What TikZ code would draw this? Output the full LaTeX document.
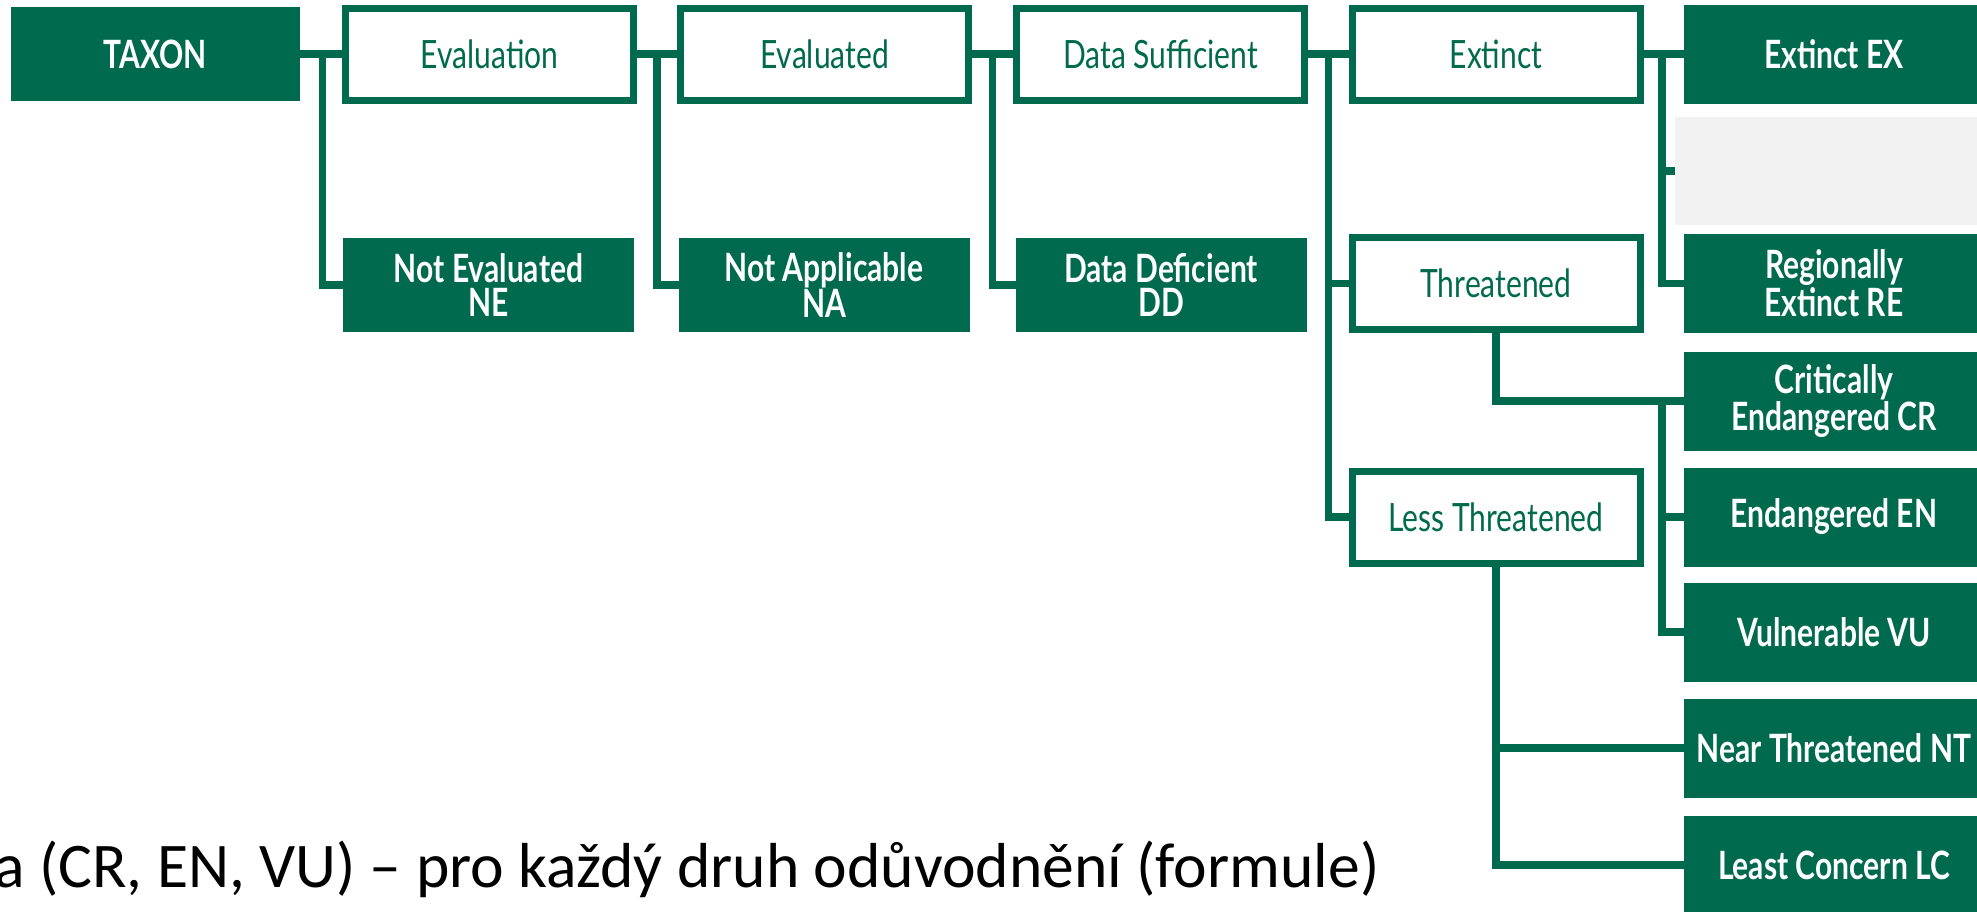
\documentclass[tikz,border=0pt]{standalone}
\usepackage{fontspec}
\setmainfont{Carlito}
\newfontfamily\boxfont[FakeStretch=0.77]{Lato}
\usetikzlibrary{calc}
\definecolor{iucn}{HTML}{006A4E}
\definecolor{graybg}{HTML}{F2F2F2}
\begin{document}
\begin{tikzpicture}[x=0.5pt,y=-0.5pt,
  conn/.style={draw=iucn,line width=3.75pt},
  obox/.style={draw=iucn,line width=3.5pt,fill=white,text=iucn,minimum width=144pt,minimum height=46pt,inner sep=0pt,outer sep=0pt,font=\boxfont\fontsize{19.5}{17}\selectfont,align=center},
  fbox/.style={fill=iucn,text=white,minimum width=145.5pt,minimum height=47pt,inner sep=0pt,outer sep=0pt,font=\boxfont\bfseries\fontsize{19.5}{17}\selectfont,align=center},
  rbox/.style={fbox,minimum width=150pt,minimum height=49.5pt}]
\clip (0,0) rectangle (1977,911);
\fill[white] (0,0) rectangle (1977,911);
% top row
\node[fbox,minimum width=144.5pt] (taxon) at (155,54) {TAXON};
\node[obox] (evaln) at (489.5,54) {Evaluation};
\node[obox] (evald) at (824.5,54) {Evaluated};
\node[obox] (ds) at (1160.5,54) {Data Sufficient};
\node[obox] (ext) at (1496,54) {Extinct};
\node[rbox] (ex) at (1834,54) {Extinct EX};
% second row
\node[fbox] (ne) at (488.5,285) {Not Evaluated\\NE};
\node[fbox] (na) at (824,285) {Not Applicable\\NA};
\node[fbox] (dd) at (1161,285) {Data Deficient\\DD};
\node[obox] (thr) at (1496,283.5) {Threatened};
\node[fill=graybg,minimum width=155pt,minimum height=54pt,inner sep=0pt,outer sep=0pt] (gray) at (1830,171) {};
\node[rbox] (re) at (1834,283.5) {Regionally\\Extinct RE};
% lower part
\node[rbox] (cr) at (1834,401) {Critically\\Endangered CR};
\node[obox] (lt) at (1496,517) {Less Threatened};
\node[rbox] (en) at (1834,517) {Endangered EN};
\node[rbox] (vu) at (1834,632) {Vulnerable VU};
\node[rbox] (nt) at (1834,748) {Near Threatened NT};
\node[rbox] (lc) at (1834,865) {Least Concern LC};
% junctions
\coordinate (j1) at ($(taxon.east)!0.5!(evaln.west)$);
\coordinate (j2) at ($(evaln.east)!0.5!(evald.west)$);
\coordinate (j3) at ($(evald.east)!0.5!(ds.west)$);
\coordinate (j4) at ($(ds.east)!0.5!(ext.west)$);
\coordinate (j5) at ($(ext.east)!0.5!(ex.west)$);
\coordinate (j6) at ($(cr.west)+(-22,0)$);
% connectors
\draw[conn] (taxon.east) -- (evaln.west);
\draw[conn] (j1) |- (ne.west);
\draw[conn] (evaln.east) -- (evald.west);
\draw[conn] (j2) |- (na.west);
\draw[conn] (evald.east) -- (ds.west);
\draw[conn] (j3) |- (dd.west);
\draw[conn] (ds.east) -- (ext.west);
\draw[conn] (j4) |- (thr.west);
\draw[conn] (j4) |- (lt.west);
\draw[conn] (ext.east) -- (ex.west);
\draw[conn] (j5) |- (gray.west);
\draw[conn] (j5) |- (re.west);
\draw[conn] (thr.south) |- (cr.west);
\draw[conn] (j6) |- (en.west);
\draw[conn] (j6) |- (vu.west);
\draw[conn] (lt.south) |- (nt.west);
\draw[conn] (lt.south) |- (lc.west);
% note
\node[anchor=base east,font=\fontsize{31.8}{36}\selectfont,inner sep=0pt] (note) at (1380,887) {a (CR, EN, VU) – pro každý druh odůvodnění (formule)};
\end{tikzpicture}
\end{document}
